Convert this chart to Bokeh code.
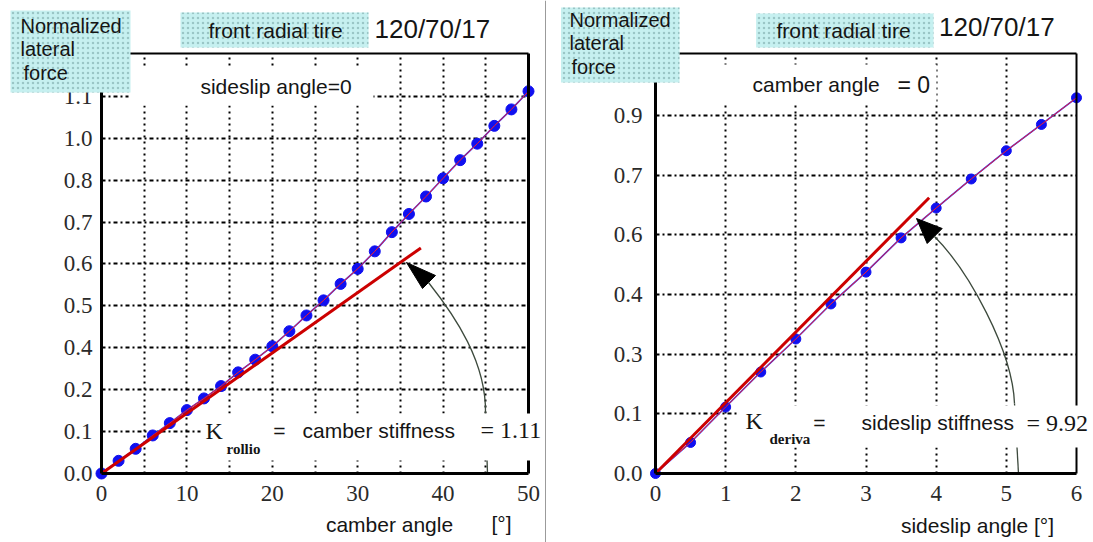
from bokeh.plotting import figure
from bokeh.models import Range1d, FixedTicker, LinearAxis, Label, BoxAnnotation, Grid, Span
from bokeh.layouts import row
from bokeh.embed import file_html
from bokeh.resources import INLINE

# ---------------- data ----------------
camber_angle = [0, 2, 4, 6, 8, 10, 12, 14, 16, 18, 20, 22, 24, 26,
                28, 30, 32, 34, 36, 38, 40, 42, 44, 46, 48, 50]
camber_force = [0.0, 0.037, 0.072, 0.111, 0.147, 0.185, 0.219, 0.255, 0.295,
                0.332, 0.371, 0.415, 0.461, 0.505, 0.553, 0.597, 0.648, 0.704,
                0.757, 0.808, 0.861, 0.914, 0.962, 1.014, 1.062, 1.115]
camber_tangent_angle = [0, 37.4]
camber_tangent_force = [0, 0.658]
camber_x_ticks = [0, 10, 20, 30, 40, 50]
camber_x_grid = [5, 10, 15, 20, 25, 30, 35, 40, 45]
camber_y_ticks = [0.0, 0.1222, 0.2444, 0.3667, 0.4889, 0.6111, 0.7333, 0.8556, 0.9778, 1.1]
camber_y_labels = ["0.0", "0.1", "0.2", "0.4", "0.5", "0.6", "0.7", "0.8", "1.0", "1.1"]

sideslip_angle = [0, 0.5, 1, 1.5, 2, 2.5, 3, 3.5, 4, 4.5, 5, 5.5, 6]
sideslip_force = [0.0, 0.078, 0.167, 0.255, 0.338, 0.426, 0.506, 0.592,
                  0.667, 0.740, 0.811, 0.877, 0.944]
sideslip_tangent_angle = [0, 3.9]
sideslip_tangent_force = [0, 0.693]
sideslip_x_ticks = [0, 1, 2, 3, 4, 5, 6]
sideslip_x_grid = [1, 2, 3, 4, 5]
sideslip_y_ticks = [0.0, 0.15, 0.3, 0.45, 0.6, 0.75, 0.9]
sideslip_y_labels = ["0.0", "0.1", "0.3", "0.4", "0.6", "0.7", "0.9"]

# ---------------- helpers for placing annotations (page pixels -> data) ----------------
def L(px, py):
    return ((px - 101) / 8.54, (473 - py) / 342.83)

def R(px, py):
    return ((px - 655) / 70.167, (473 - py) / 398.0)

SANS = "Liberation Sans"
SERIF = "Liberation Serif"
TXT = "#151515"
HAS_CROSS = "cross_bounds" in Grid.properties()


def add_label(p, xy, text, size, font=SANS, align="left", style="normal", color=TXT):
    p.add_layout(Label(x=xy[0], y=xy[1], text=text, text_font=font,
                       text_font_size=f"{size}px", text_align=align,
                       text_baseline="middle", text_font_style=style,
                       text_color=color))


def add_box(p, a, b, fill, hatch=False):
    kw = dict(left=min(a[0], b[0]), right=max(a[0], b[0]),
              bottom=min(a[1], b[1]), top=max(a[1], b[1]),
              fill_color=fill, fill_alpha=1.0, line_color=None)
    if hatch:
        kw.update(hatch_pattern="dot", hatch_color="#86b4b4", hatch_scale=5,
                  hatch_weight=1, hatch_alpha=0.7)
    p.add_layout(BoxAnnotation(**kw))


def frame_axis(p, loc, fixed, bounds, width):
    ax = LinearAxis(ticker=FixedTicker(ticks=[]), fixed_location=fixed, bounds=bounds,
                    axis_line_width=width, axis_line_color="black",
                    major_tick_line_color=None, minor_tick_line_color=None,
                    major_tick_out=0, major_tick_in=0, major_label_standoff=0,
                    major_label_text_font_size="0px")
    p.add_layout(ax, loc)


def make_panel(width, M, x_max, y_top, xticks, xgrid, yticks, ylabels, ystandoff, right_w):
    x0, y0 = M(0, 542)
    x1, y1 = M(width if M is L else 1093, 0)
    if M is R:
        x0 = M(546, 542)[0]
    p = figure(width=width, height=542, x_range=Range1d(x0, x1), y_range=Range1d(y0, y1),
               output_backend="svg", toolbar_location=None, min_border=0)
    p.outline_line_color = None
    p.background_fill_color = "white"
    p.border_fill_color = "white"
    xa, ya = p.xaxis[0], p.yaxis[0]
    xa.fixed_location = 0
    xa.bounds = (0, x_max)
    ya.fixed_location = 0
    ya.bounds = (0, y_top)
    xa.ticker = FixedTicker(ticks=xticks)
    ya.ticker = FixedTicker(ticks=yticks)
    ya.major_label_overrides = {t: l for t, l in zip(yticks, ylabels)}
    for ax in (xa, ya):
        ax.axis_line_width = 3
        ax.axis_line_color = "black"
        ax.major_tick_line_color = None
        ax.minor_tick_line_color = None
        ax.major_tick_out = 0
        ax.major_tick_in = 0
        ax.major_label_text_font = SERIF
        ax.major_label_text_font_size = "23px"
        ax.major_label_text_color = "#2a2a2a"
    xa.major_label_standoff = 12
    ya.major_label_standoff = ystandoff
    frame_axis(p, "right", x_max, (0, y_top), right_w)
    frame_axis(p, "above", y_top, (0, x_max), 2)

    xg, yg = p.xgrid[0], p.ygrid[0]
    if HAS_CROSS:
        xg.ticker = FixedTicker(ticks=xgrid)
        yg.ticker = FixedTicker(ticks=yticks[1:])
        xg.cross_bounds = (0, y_top)
        yg.cross_bounds = (0, x_max)
        for g, dash in ((xg, "2 4"), (yg, "4 3 2 3")):
            g.grid_line_color = "black"
            g.grid_line_width = 2
            g.grid_line_dash = dash
    else:
        xg.visible = False
        yg.visible = False
        p.segment(x0=xgrid, y0=[0] * len(xgrid), x1=xgrid, y1=[y_top] * len(xgrid),
                  line_color="black", line_width=2, line_dash="2 4", level="underlay")
        yt = yticks[1:]
        p.segment(x0=[0] * len(yt), y0=yt, x1=[x_max] * len(yt), y1=yt,
                  line_color="black", line_width=2, line_dash="4 3 2 3", level="underlay")
    return p


def draw_series(p, xs, ys, tx, ty, size):
    p.line(xs, ys, line_color="#2030ff", line_width=1.6)
    p.scatter(xs, ys, size=size, fill_color="#1010f0", line_color="#1010f0")
    p.line(xs, ys, line_color="#ff2020", line_width=1)
    p.line(tx, ty, line_color="#cc0000", line_width=3)


def draw_arrow(p, M, head, p0, c0, c1, p3, tail_end):
    a, b, c = (M(*q) for q in head)
    p.patch([a[0], b[0], c[0]], [a[1], b[1], c[1]], fill_color="black",
            line_color="black", line_width=1)
    P0, C0, C1, P3, T = M(*p0), M(*c0), M(*c1), M(*p3), M(*tail_end)
    p.bezier(x0=P0[0], y0=P0[1], x1=P3[0], y1=P3[1], cx0=C0[0], cy0=C0[1],
             cx1=C1[0], cy1=C1[1], line_color="#3d4a3d", line_width=1.3)
    p.line([P3[0], T[0]], [P3[1], T[1]], line_color="#3d4a3d", line_width=1.3)


# ---------------- left panel: camber ----------------
p1 = make_panel(546, L, 50, 420 / 342.83, camber_x_ticks, camber_x_grid,
                camber_y_ticks, camber_y_labels, 9, 3)
draw_series(p1, camber_angle, camber_force, camber_tangent_angle, camber_tangent_force, 11)
draw_arrow(p1, L, [(406, 262), (435, 275), (422, 288)],
           (428, 282), (455, 316), (486, 362), (485, 413), (487, 473))

add_box(p1, L(128, 66), L(373, 105), "white")
add_label(p1, L(275.5, 86), "sideslip angle=0", 21, align="center")

add_box(p1, L(200, 413), L(541, 460), "white")
add_label(p1, L(205, 430), "K", 24, font=SERIF)
add_label(p1, L(226, 448), "rollio", 15, font=SERIF, style="bold")
add_label(p1, L(279, 430), "=", 21, align="center")
add_label(p1, L(302, 430), "camber stiffness", 21)
add_label(p1, L(480, 429), "= 1.11", 24, font=SERIF)

add_box(p1, L(10, 10), L(130, 92), "#c6f0f0", hatch=True)
add_label(p1, L(20, 25), "Normalized", 20)
add_label(p1, L(20, 48), "lateral", 20)
add_label(p1, L(23, 72), "force", 20)

add_box(p1, L(180, 12), L(368, 47), "#c6f0f0", hatch=True)
add_label(p1, L(275, 29.5), "front radial tire", 21, align="center")
add_label(p1, L(374, 28), "120/70/17", 26)

add_label(p1, L(389, 524), "camber angle", 21, align="center")
add_label(p1, L(501, 523), "[°]", 21, align="center")

p1.add_layout(Span(location=L(545.3, 0)[0], dimension="height",
                   line_color="#8a8a8a", line_width=1.3))

# ---------------- right panel: sideslip ----------------
p2 = make_panel(547, R, 6, 420 / 398.0, sideslip_x_ticks, sideslip_x_grid,
                sideslip_y_ticks, sideslip_y_labels, 13, 2)
draw_series(p2, sideslip_angle, sideslip_force, sideslip_tangent_angle, sideslip_tangent_force, 10)
draw_arrow(p2, R, [(916, 218), (941.7, 228), (926.7, 243)],
           (934, 236), (968, 270), (1012, 350), (1014, 403), (1018, 473))

add_box(p2, R(712, 64), R(936, 104), "white")
add_label(p2, R(752, 84), "camber angle", 21)
add_label(p2, R(897, 84), "= 0", 23)

add_box(p2, R(738, 405), R(1093, 447), "white")
add_label(p2, R(745, 420), "K", 24, font=SERIF)
add_label(p2, R(769, 438), "deriva", 15, font=SERIF, style="bold")
add_label(p2, R(819, 422), "=", 21, align="center")
add_label(p2, R(861, 422), "sideslip stiffness", 21)
add_label(p2, R(1026, 422), "= 9.92", 24, font=SERIF)

add_box(p2, R(560.5, 7), R(679, 82), "#c6f0f0", hatch=True)
add_label(p2, R(569, 19), "Normalized", 20)
add_label(p2, R(569, 42), "lateral", 20)
add_label(p2, R(571, 66), "force", 20)

add_box(p2, R(755.6, 13), R(933, 47), "#c6f0f0", hatch=True)
add_label(p2, R(843, 30), "front radial tire", 21, align="center")
add_label(p2, R(938.5, 26), "120/70/17", 26)

add_label(p2, R(977, 525), "sideslip angle [°]", 21, align="center")

layout = row(p1, p2)
open("out.html", "w").write(file_html(layout, INLINE))
